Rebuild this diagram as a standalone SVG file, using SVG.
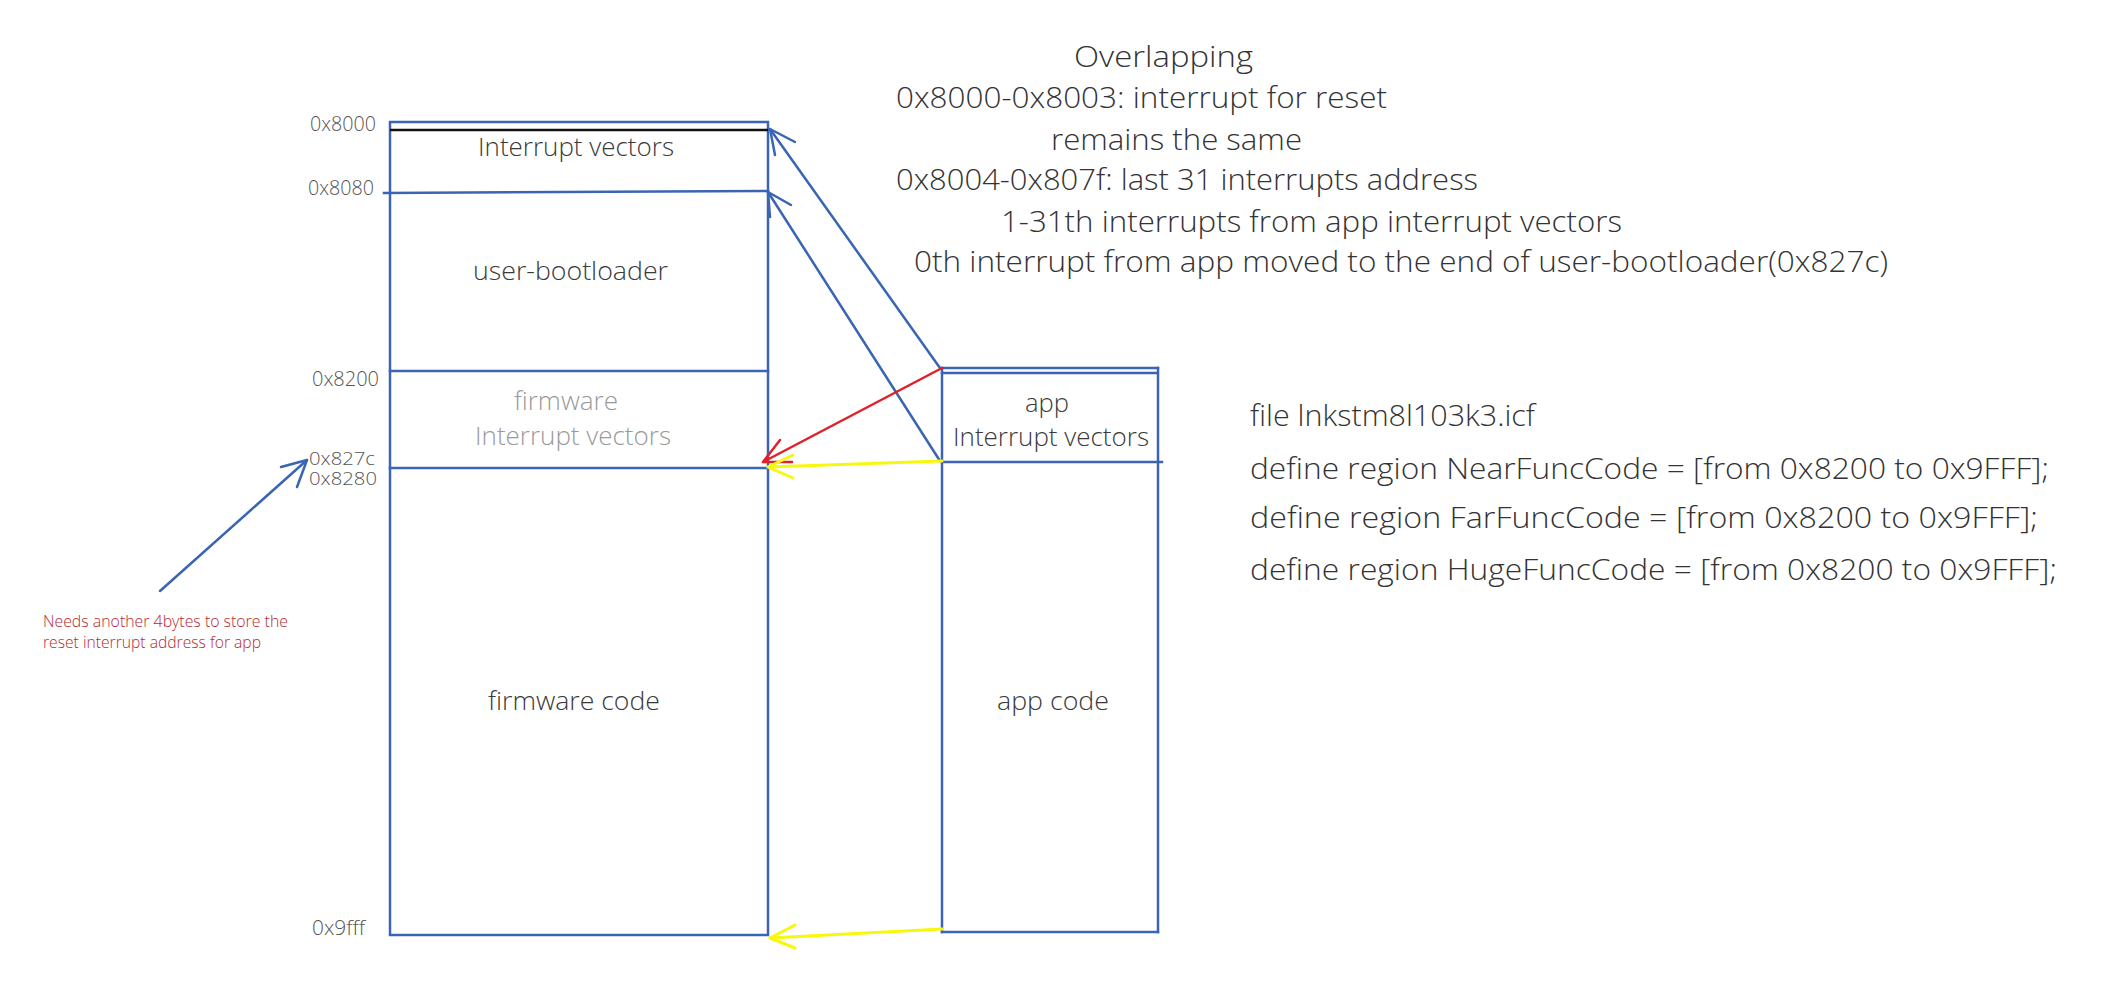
<svg xmlns="http://www.w3.org/2000/svg" width="2110" height="1000" viewBox="0 0 2110 1000">
<style>
text{font-family:"Open Sans","Liberation Sans",sans-serif;font-weight:300}
.big{font-size:30px;fill:#333}
.lbl{font-size:26px;fill:#3a3a3a}
.gray{font-size:26px;fill:#9a9a9a}
.addr{font-size:21px;fill:#555}
.addr2{font-size:19px;fill:#555}
.note{font-size:16px;fill:#b8282e}
.box{fill:none;stroke:#3a64b4;stroke-width:2.5;stroke-linecap:square}
.blue{fill:none;stroke:#3a64b4;stroke-width:2.5;stroke-linecap:round;stroke-linejoin:round}
.red{fill:none;stroke:#e0202a;stroke-width:2.5;stroke-linecap:round;stroke-linejoin:round}
.yel{fill:none;stroke:#f8f80e;stroke-width:3;stroke-linecap:round;stroke-linejoin:round}
</style>
<rect width="2110" height="1000" fill="#fff"/>

<g id="firmware-memory">
  <rect class="box" x="390" y="122" width="378" height="813"/>
  <line x1="390" y1="130" x2="768" y2="130" stroke="#111" stroke-width="2.5"/>
  <line class="box" x1="384" y1="193" x2="768" y2="191"/>
  <line class="box" x1="390" y1="371" x2="768" y2="371"/>
  <line class="box" x1="390" y1="468" x2="768" y2="468"/>
  <text class="lbl" x="478" y="156" textLength="196" lengthAdjust="spacingAndGlyphs">Interrupt vectors</text>
  <text class="lbl" x="473" y="280" textLength="195" lengthAdjust="spacingAndGlyphs">user-bootloader</text>
  <text class="gray" x="514" y="410" textLength="104" lengthAdjust="spacingAndGlyphs">firmware</text>
  <text class="gray" x="475" y="445" textLength="196" lengthAdjust="spacingAndGlyphs">Interrupt vectors</text>
  <text class="lbl" x="488" y="710" textLength="172" lengthAdjust="spacingAndGlyphs">firmware code</text>
</g>

<g id="addresses">
  <text class="addr" x="310" y="131" textLength="66" lengthAdjust="spacingAndGlyphs">0x8000</text>
  <text class="addr" x="308" y="195" textLength="66" lengthAdjust="spacingAndGlyphs">0x8080</text>
  <text class="addr" x="312" y="386" textLength="67" lengthAdjust="spacingAndGlyphs">0x8200</text>
  <text class="addr2" x="309" y="465" textLength="66" lengthAdjust="spacingAndGlyphs">0x827c</text>
  <text class="addr2" x="309" y="485" textLength="68" lengthAdjust="spacingAndGlyphs">0x8280</text>
  <text class="addr" x="312" y="935" textLength="53" lengthAdjust="spacingAndGlyphs">0x9fff</text>
</g>

<g id="app-memory">
  <line class="box" x1="942" y1="368" x2="942" y2="932"/>
  <line class="box" x1="1158" y1="368" x2="1158" y2="932"/>
  <line class="box" x1="942" y1="368" x2="1158" y2="368"/>
  <line class="box" x1="942" y1="373" x2="1156" y2="373"/>
  <line class="box" x1="942" y1="462" x2="1162" y2="462"/>
  <line class="box" x1="942" y1="932" x2="1158" y2="932"/>
  <text class="lbl" x="1025" y="412" textLength="44" lengthAdjust="spacingAndGlyphs">app</text>
  <text class="lbl" x="953" y="446" textLength="196" lengthAdjust="spacingAndGlyphs">Interrupt vectors</text>
  <text class="lbl" x="997" y="710" textLength="112" lengthAdjust="spacingAndGlyphs">app code</text>
</g>

<g id="overlap-note">
  <text class="big" x="1074" y="67" textLength="179" lengthAdjust="spacingAndGlyphs">Overlapping</text>
  <text class="big" x="896" y="108" textLength="491" lengthAdjust="spacingAndGlyphs">0x8000-0x8003: interrupt for reset</text>
  <text class="big" x="1051" y="150" textLength="251" lengthAdjust="spacingAndGlyphs">remains the same</text>
  <text class="big" x="896" y="190" textLength="582" lengthAdjust="spacingAndGlyphs">0x8004-0x807f: last 31 interrupts address</text>
  <text class="big" x="1001" y="232" textLength="621" lengthAdjust="spacingAndGlyphs">1-31th interrupts from app interrupt vectors</text>
  <text class="big" x="914" y="272" textLength="974" lengthAdjust="spacingAndGlyphs">0th interrupt from app moved to the end of user-bootloader(0x827c)</text>
</g>

<g id="icf-note">
  <text class="big" x="1250" y="426" textLength="285" lengthAdjust="spacingAndGlyphs">file lnkstm8l103k3.icf</text>
  <text class="big" x="1250" y="479" textLength="799" lengthAdjust="spacingAndGlyphs">define region NearFuncCode = [from 0x8200 to 0x9FFF];</text>
  <text class="big" x="1250" y="528" textLength="788" lengthAdjust="spacingAndGlyphs">define region FarFuncCode = [from 0x8200 to 0x9FFF];</text>
  <text class="big" x="1250" y="580" textLength="807" lengthAdjust="spacingAndGlyphs">define region HugeFuncCode = [from 0x8200 to 0x9FFF];</text>
</g>

<g id="reset-note">
  <text class="note" x="43" y="627" textLength="245" lengthAdjust="spacingAndGlyphs">Needs another 4bytes to store the</text>
  <text class="note" x="43" y="648" textLength="218" lengthAdjust="spacingAndGlyphs">reset interrupt address for app</text>
</g>

<g id="connectors">
  <line class="blue" x1="940" y1="368" x2="770" y2="129"/>
  <polyline class="blue" points="795,142 770,129 775,155"/>
  <line class="blue" x1="940" y1="461" x2="768" y2="192"/>
  <polyline class="blue" points="791,205 768,192 770,217"/>
  <line class="red" x1="942" y1="368" x2="763" y2="462"/>
  <polyline class="red" points="780,440 763,462 792,462"/>
  <line class="yel" x1="942" y1="461" x2="768" y2="467"/>
  <polyline class="yel" points="793,455 768,467 793,478"/>
  <line class="yel" x1="942" y1="929" x2="770" y2="938"/>
  <polyline class="yel" points="795,925 770,938 795,948"/>
  <line class="blue" x1="160" y1="591" x2="307" y2="460"/>
  <polyline class="blue" points="281,467 307,460 297,487"/>
</g>
</svg>
